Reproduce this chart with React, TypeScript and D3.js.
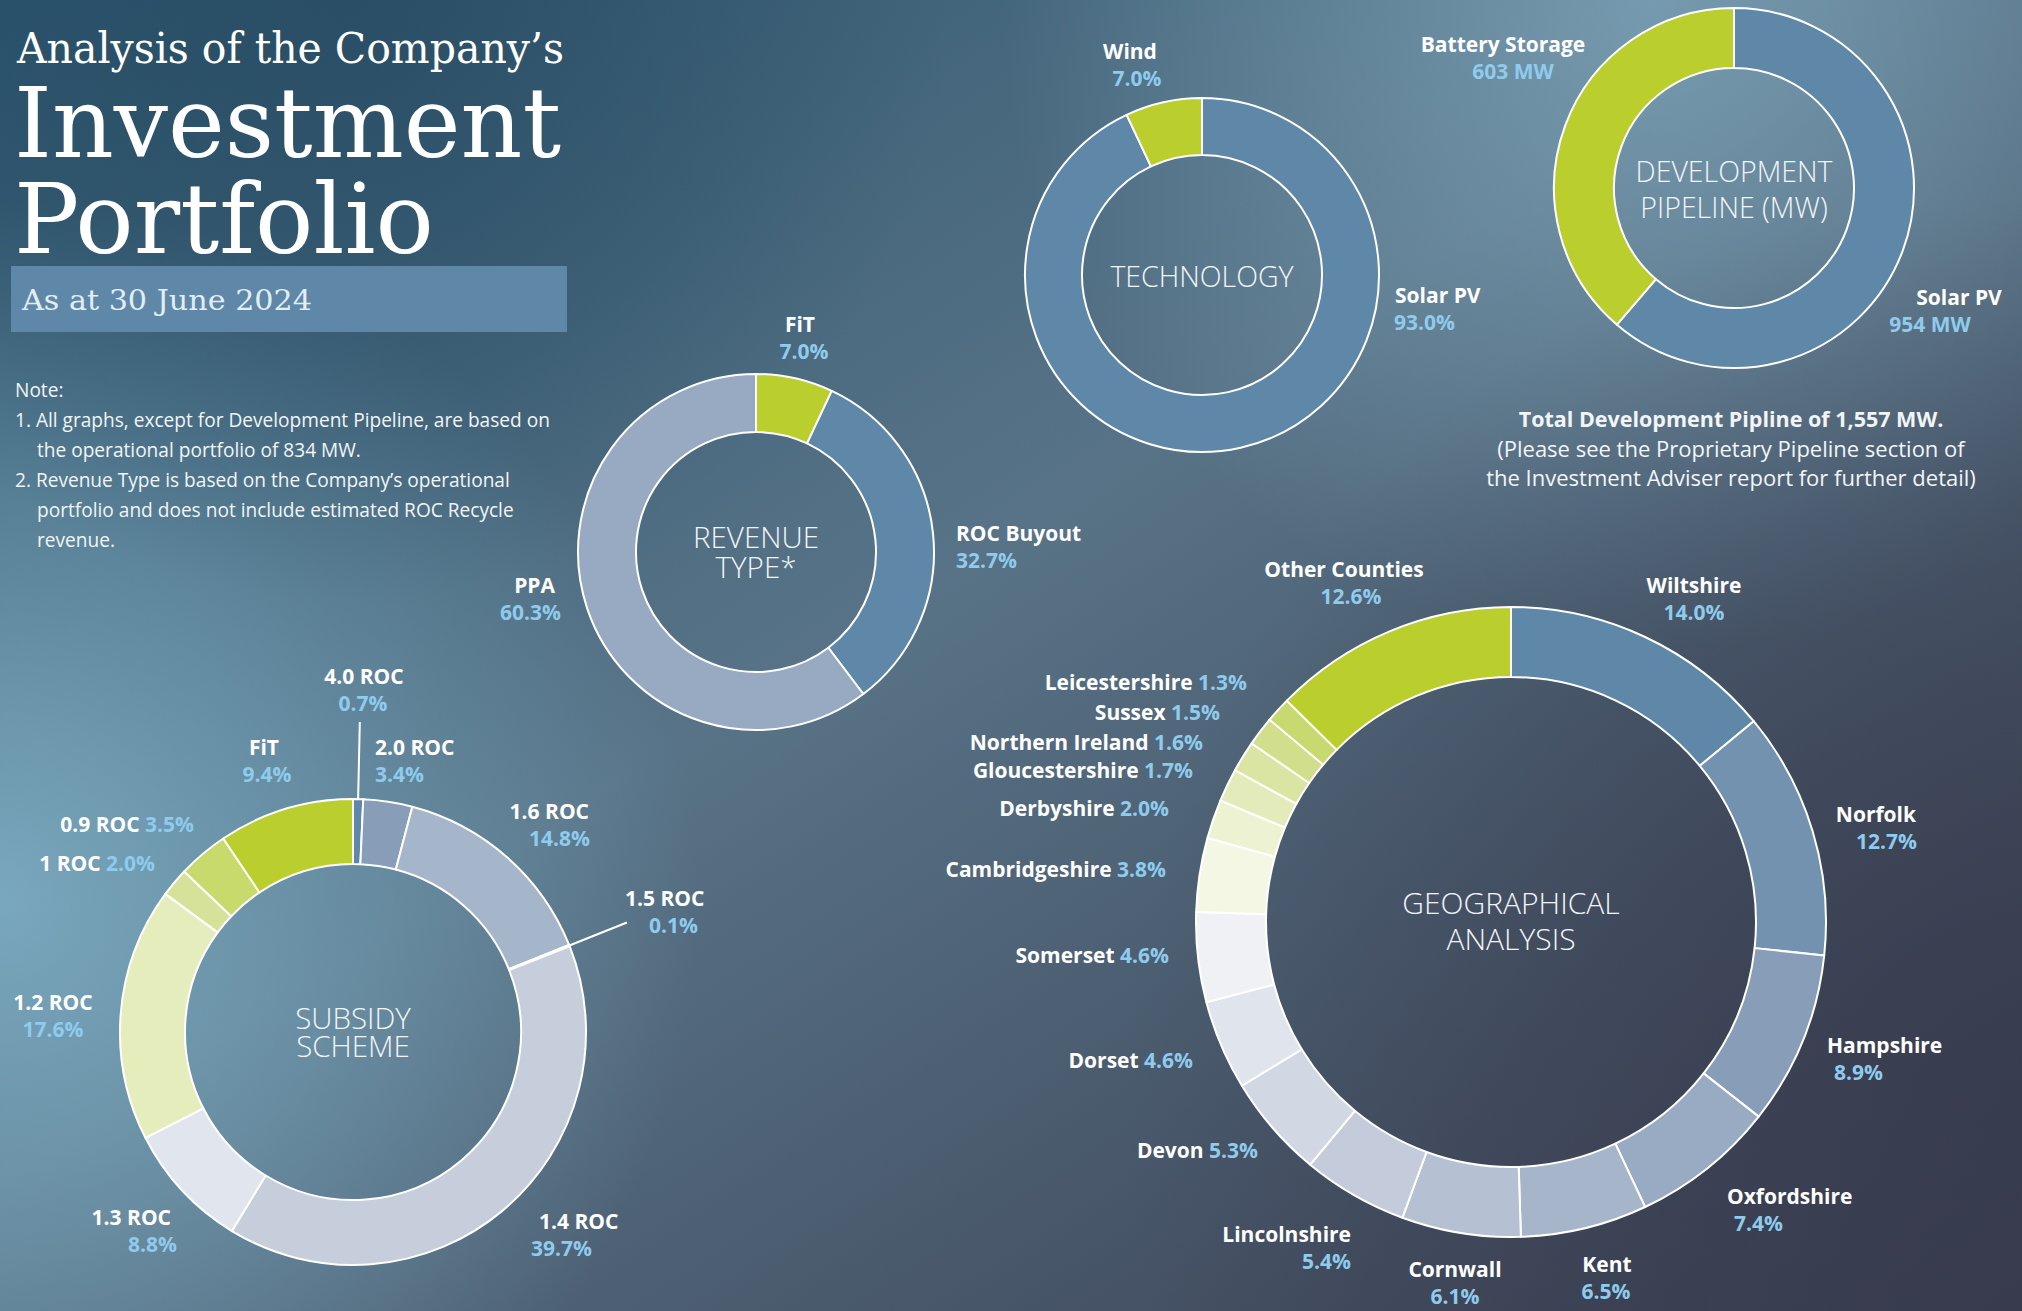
import React, { useEffect } from 'react';
import * as d3 from 'd3';

const W = 2022;
const H = 1311;

// Technology (% of operational portfolio)
const techNames = ['Solar PV', 'Wind'];
const techValues = [93.0, 7.0];

// Development pipeline (MW)
const pipeNames = ['Solar PV', 'Battery Storage'];
const pipeValues = [954, 603];

// Revenue type (%)
const revNames = ['FiT', 'ROC Buyout', 'PPA'];
const revValues = [7.0, 32.7, 60.3];

// Subsidy scheme (%)
const subNames = ['4.0 ROC', '2.0 ROC', '1.6 ROC', '1.5 ROC', '1.4 ROC', '1.3 ROC', '1.2 ROC', '1 ROC', '0.9 ROC', 'FiT'];
const subValues = [0.7, 3.4, 14.8, 0.1, 39.7, 8.8, 17.6, 2.0, 3.5, 9.4];

// Geographical analysis (%)
const geoNames = ['Wiltshire', 'Norfolk', 'Hampshire', 'Oxfordshire', 'Kent', 'Cornwall', 'Lincolnshire', 'Devon',
  'Dorset', 'Somerset', 'Cambridgeshire', 'Derbyshire', 'Gloucestershire', 'Northern Ireland', 'Sussex',
  'Leicestershire', 'Other Counties'];
const geoValues = [14.0, 12.7, 8.9, 7.4, 6.5, 6.1, 5.4, 5.3, 4.6, 4.6, 3.8, 2.0, 1.7, 1.6, 1.5, 1.3, 12.6];

const noteLines = [
  ['Note:', 0],
  ['1. All graphs, except for Development Pipeline, are based on', 0],
  ['the operational portfolio of 834 MW.', 1],
  ['2. Revenue Type is based on the Company\u2019s operational', 0],
  ['portfolio and does not include estimated ROC Recycle', 1],
  ['revenue.', 1],
];

const pipeNote = [
  'Total Development Pipline of 1,557 MW.',
  '(Please see the Proprietary Pipeline section of',
  'the Investment Adviser report for further detail)',
];

// ---- styles ----
const BLUE = '#5f87a8';
const LIME = '#bacf2e';
const PCT = '#8fcbec';
const SANS = '"Open Sans", "Noto Sans", sans-serif';
const SERIF = '"DejaVu Serif", "Liberation Serif", serif';

const techColors = [BLUE, LIME];
const pipeColors = [BLUE, LIME];
const revColors = [LIME, BLUE, '#97aac1'];
const subColors = [BLUE, '#889db8', '#a5b5ca', '#b4c0d1', '#c6cedc', '#e1e5ed', '#e6edbd', '#d6e29a', '#c9da6c', LIME];
const geoColors = ['#5f87a8', '#7392b0', '#889db8', '#98abc2', '#a6b5ca', '#b5c1d2', '#c4ccdb', '#d2d8e3',
  '#e0e4ec', '#eff1f5', '#f5f7e5', '#edf2d3', '#e3ebbb', '#dae5a4', '#d1df8c', '#c7d96f', LIME];

type Lab = { x: number; y: number; a: 'start' | 'middle' | 'end'; x2?: number; inline?: boolean };

const techLab: Record<string, Lab> = {
  'Solar PV': { x: 1395, y: 303, a: 'start', x2: 1394 },
  'Wind': { x: 1130, y: 59, a: 'middle', x2: 1137 },
};
const pipeLab: Record<string, Lab> = {
  'Solar PV': { x: 1959, y: 305, a: 'middle', x2: 1930 },
  'Battery Storage': { x: 1503, y: 52, a: 'middle', x2: 1513 },
};
const revLab: Record<string, Lab> = {
  'FiT': { x: 800, y: 332, a: 'middle', x2: 804 },
  'ROC Buyout': { x: 956, y: 541, a: 'start', x2: 956 },
  'PPA': { x: 555, y: 593, a: 'end', x2: 561 },
};
const subLab: Record<string, Lab> = {
  '4.0 ROC': { x: 364, y: 684, a: 'middle', x2: 363 },
  '2.0 ROC': { x: 375, y: 755, a: 'start', x2: 375 },
  '1.6 ROC': { x: 589, y: 819, a: 'end', x2: 590 },
  '1.5 ROC': { x: 625, y: 906, a: 'start', x2: 649 },
  '1.4 ROC': { x: 539, y: 1229, a: 'start', x2: 531 },
  '1.3 ROC': { x: 171, y: 1225, a: 'end', x2: 177 },
  '1.2 ROC': { x: 53, y: 1010, a: 'middle', x2: 53 },
  '1 ROC': { x: 155, y: 871, a: 'end', inline: true },
  '0.9 ROC': { x: 194, y: 832, a: 'end', inline: true },
  'FiT': { x: 264, y: 755, a: 'middle', x2: 267 },
};
const geoLab: Record<string, Lab> = {
  'Wiltshire': { x: 1694, y: 593, a: 'middle', x2: 1694 },
  'Norfolk': { x: 1916, y: 822, a: 'end', x2: 1917 },
  'Hampshire': { x: 1827, y: 1053, a: 'start', x2: 1834 },
  'Oxfordshire': { x: 1727, y: 1204, a: 'start', x2: 1734 },
  'Kent': { x: 1607, y: 1272, a: 'middle', x2: 1606 },
  'Cornwall': { x: 1455, y: 1277, a: 'middle', x2: 1455 },
  'Lincolnshire': { x: 1351, y: 1242, a: 'end', x2: 1351 },
  'Devon': { x: 1258, y: 1158, a: 'end', inline: true },
  'Dorset': { x: 1193, y: 1068, a: 'end', inline: true },
  'Somerset': { x: 1169, y: 963, a: 'end', inline: true },
  'Cambridgeshire': { x: 1166, y: 877, a: 'end', inline: true },
  'Derbyshire': { x: 1169, y: 816, a: 'end', inline: true },
  'Gloucestershire': { x: 1193, y: 778, a: 'end', inline: true },
  'Northern Ireland': { x: 1203, y: 750, a: 'end', inline: true },
  'Sussex': { x: 1220, y: 720, a: 'end', inline: true },
  'Leicestershire': { x: 1247, y: 690, a: 'end', inline: true },
  'Other Counties': { x: 1344, y: 577, a: 'middle', x2: 1351 },
};

const pct = (v: number) => d3.format('.1f')(v) + '%';
const mw = (v: number) => d3.format(',')(v) + ' MW';

type DonutProps = {
  cx: number; cy: number; r0: number; r1: number;
  names: string[]; values: number[]; colors: string[];
  fmt: (v: number) => string; labels: Record<string, Lab>;
  title: string[]; titleY: number[]; titleSize: number;
  leaders?: Record<string, number>;
};

function Donut(p: DonutProps) {
  const arcs = d3.pie<number>().sort(null).value((d) => d)(p.values);
  const arc = d3.arc<d3.PieArcDatum<number>>().innerRadius(p.r0).outerRadius(p.r1);
  return (
    <g>
      <g transform={`translate(${p.cx},${p.cy})`}>
        {arcs.map((a, i) => (
          <path key={i} d={arc(a) || ''} fill={p.colors[i]} stroke="#ffffff" strokeWidth={2} strokeLinejoin="round" />
        ))}
        {arcs.map((a, i) => {
          const len = p.leaders && p.leaders[p.names[i]];
          if (!len) return null;
          const mid = (a.startAngle + a.endAngle) / 2;
          const [x1, y1] = d3.pointRadial(mid, p.r1);
          const [x2, y2] = d3.pointRadial(mid, len);
          return <line key={'l' + i} x1={x1} y1={y1} x2={x2} y2={y2} stroke="#ffffff" strokeWidth={2} />;
        })}
        {p.title.map((t, i) => (
          <text key={t} x={0} y={p.titleY[i]} textAnchor="middle" fontFamily={SANS} fontWeight={300}
            fontSize={p.titleSize} fill="#f2f5f7">{t}</text>
        ))}
      </g>
      {p.names.map((n, i) => {
        const l = p.labels[n];
        if (!l) return null;
        const v = p.fmt(p.values[i]);
        if (l.inline) {
          return (
            <text key={'t' + i} x={l.x} y={l.y} textAnchor={l.a} fontFamily={SANS} fontWeight={700} fontSize={21}>
              <tspan fill="#ffffff">{n} </tspan>
              <tspan fill={PCT}>{v}</tspan>
            </text>
          );
        }
        return (
          <g key={'t' + i} fontFamily={SANS} fontWeight={700} fontSize={21} textAnchor={l.a}>
            <text x={l.x} y={l.y} fill="#ffffff">{n}</text>
            <text x={l.x2 ?? l.x} y={l.y + 26.5} fill={PCT}>{v}</text>
          </g>
        );
      })}
    </g>
  );
}

export default function App() {
  useEffect(() => {
    document.body.style.margin = '0';
    document.body.style.overflow = 'hidden';
  }, []);

  return (
    <svg width={W} height={H} viewBox={`0 0 ${W} ${H}`} style={{ position: 'absolute', left: 0, top: 0, display: 'block' }}>
      <defs>
        <linearGradient id="bg" x1="0" y1="0" x2="1" y2="1">
          <stop offset="0" stopColor="#2b556e" />
          <stop offset="0.45" stopColor="#587387" />
          <stop offset="1" stopColor="#393c4e" />
        </linearGradient>
        <radialGradient id="glowL" gradientUnits="userSpaceOnUse" cx={0} cy={900} r={700}>
          <stop offset="0" stopColor="#7eaec4" stopOpacity={0.9} />
          <stop offset="1" stopColor="#7eaec4" stopOpacity={0} />
        </radialGradient>
        <radialGradient id="glowT" gradientUnits="userSpaceOnUse" cx={1650} cy={0} r={650}>
          <stop offset="0" stopColor="#7ea4b9" stopOpacity={0.8} />
          <stop offset="1" stopColor="#7ea4b9" stopOpacity={0} />
        </radialGradient>
        <radialGradient id="darkTL" gradientUnits="userSpaceOnUse" cx={350} cy={0} r={600}>
          <stop offset="0" stopColor="#24485f" stopOpacity={0.7} />
          <stop offset="1" stopColor="#24485f" stopOpacity={0} />
        </radialGradient>
        <radialGradient id="darkBR" gradientUnits="userSpaceOnUse" cx={2022} cy={1100} r={900}>
          <stop offset="0" stopColor="#363a4c" stopOpacity={0.8} />
          <stop offset="1" stopColor="#363a4c" stopOpacity={0} />
        </radialGradient>
      </defs>
      <rect width={W} height={H} fill="url(#bg)" />
      <rect width={W} height={H} fill="url(#glowL)" />
      <rect width={W} height={H} fill="url(#glowT)" />
      <rect width={W} height={H} fill="url(#darkTL)" />
      <rect width={W} height={H} fill="url(#darkBR)" />

      {/* heading */}
      <g fontFamily={SERIF} fill="#ffffff">
        <text x={17} y={63} fontSize={42} textLength={547} lengthAdjust="spacingAndGlyphs">Analysis of the Company{'\u2019'}s</text>
        <text x={14} y={157} fontSize={97} textLength={547} lengthAdjust="spacingAndGlyphs">Investment</text>
        <text x={14} y={253} fontSize={97} textLength={420} lengthAdjust="spacingAndGlyphs">Portfolio</text>
      </g>
      <rect x={11} y={266} width={556} height={66} fill="#5f87a8" />
      <text x={22} y={310} fontFamily={SERIF} fontSize={27} fill="#e3edf4" textLength={290} lengthAdjust="spacingAndGlyphs">As at 30 June 2024</text>

      <g fontFamily={SANS} fontSize={19.1} fill="#f2f5f7">
        {noteLines.map(([t, ind], i) => (
          <text key={i} x={ind ? 37 : 15} y={397 + i * 30}>{t as string}</text>
        ))}
      </g>

      <Donut cx={1202} cy={275} r0={120} r1={177} names={techNames} values={techValues} colors={techColors}
        fmt={pct} labels={techLab} title={['TECHNOLOGY']} titleY={[12]} titleSize={28.5} />
      <Donut cx={1734} cy={188} r0={120} r1={180} names={pipeNames} values={pipeValues} colors={pipeColors}
        fmt={mw} labels={pipeLab} title={['DEVELOPMENT', 'PIPELINE (MW)']} titleY={[-6, 30]} titleSize={28.5} />
      <Donut cx={756} cy={552} r0={120} r1={178} names={revNames} values={revValues} colors={revColors}
        fmt={pct} labels={revLab} title={['REVENUE', 'TYPE*']} titleY={[-4, 26]} titleSize={29.5} />
      <Donut cx={353} cy={1032} r0={168} r1={233} names={subNames} values={subValues} colors={subColors}
        fmt={pct} labels={subLab} title={['SUBSIDY', 'SCHEME']} titleY={[-3, 25]} titleSize={29.5}
        leaders={{ '4.0 ROC': 310, '1.5 ROC': 295 }} />
      <Donut cx={1511} cy={922} r0={245} r1={315} names={geoNames} values={geoValues} colors={geoColors}
        fmt={pct} labels={geoLab} title={['GEOGRAPHICAL', 'ANALYSIS']} titleY={[-8, 28]} titleSize={30} />

      <g fontFamily={SANS} fill="#f2f5f7" textAnchor="middle">
        {pipeNote.map((t, i) => (
          <text key={i} x={1731} y={427 + i * 29.5} fontSize={i === 0 ? 21.5 : 22} fontWeight={i === 0 ? 700 : 400}>{t}</text>
        ))}
      </g>
    </svg>
  );
}
